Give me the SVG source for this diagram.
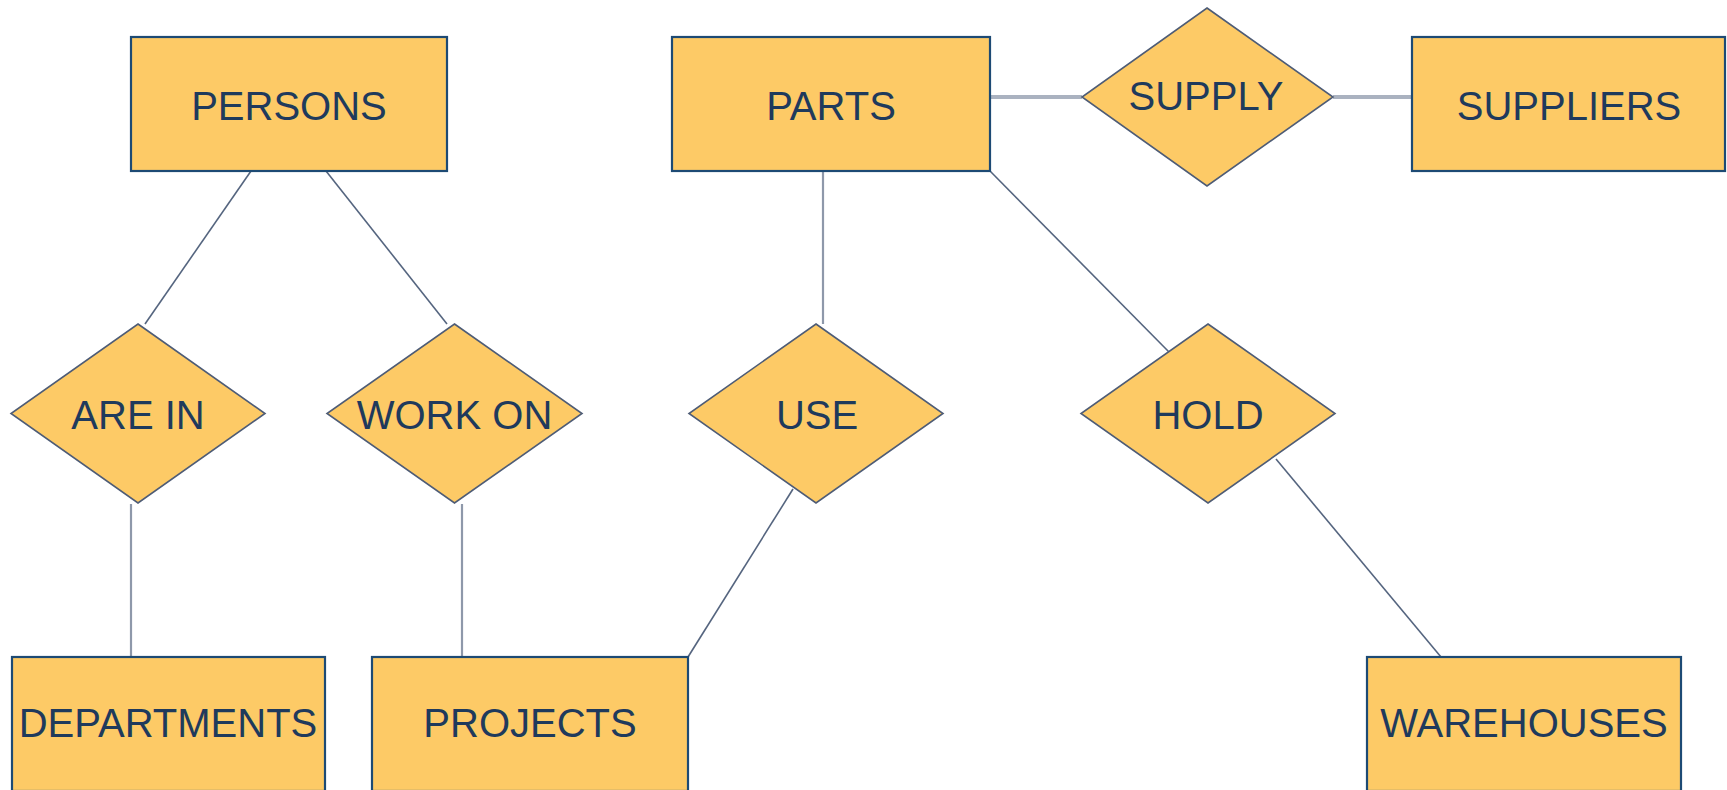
<svg xmlns="http://www.w3.org/2000/svg" width="1727" height="790" viewBox="0 0 1727 790">
<style>
.ent{fill:#fdca66;stroke:#1d4a74;stroke-width:2.2}
.rel{fill:#fdca66;stroke:#4e5c76;stroke-width:1.6}
.lbl{font-family:"Liberation Sans",Arial,sans-serif;font-size:40px;fill:#1f3a5c;text-anchor:middle}
.ln{stroke:#55657f;stroke-width:1.6;fill:none}
.lv{stroke:#8e98aa;stroke-width:2.2;fill:none}
.lh{stroke:#aab2c0;stroke-width:4;fill:none}
</style>
<rect width="1727" height="790" fill="#ffffff"/>
<g id="connectors">
<line class="ln" x1="251" y1="171" x2="145" y2="324"/>
<line class="ln" x1="326" y1="171" x2="447" y2="324"/>
<line class="lv" x1="131" y1="504" x2="131" y2="657"/>
<line class="lv" x1="462" y1="504" x2="462" y2="657"/>
<line class="lv" x1="823" y1="171" x2="823" y2="324"/>
<line class="ln" x1="990" y1="171" x2="1169" y2="352"/>
<line class="ln" x1="793" y1="489" x2="688" y2="657"/>
<line class="ln" x1="1276" y1="459" x2="1441" y2="657"/>
<line class="lh" x1="990" y1="97" x2="1082" y2="97"/>
<line class="lh" x1="1333" y1="97" x2="1412" y2="97"/>
</g>
<g id="persons"><rect class="ent" x="131" y="37" width="316" height="134"/><text class="lbl" x="289" y="120">PERSONS</text></g>
<g id="parts"><rect class="ent" x="672" y="37" width="318" height="134"/><text class="lbl" x="831" y="120">PARTS</text></g>
<g id="supply"><polygon class="rel" points="1207,8 1333,97 1207,186 1082,97"/><text class="lbl" x="1206" y="110">SUPPLY</text></g>
<g id="suppliers"><rect class="ent" x="1412" y="37" width="313" height="134"/><text class="lbl" x="1569" y="120">SUPPLIERS</text></g>
<g id="are_in"><polygon class="rel" points="138,324 265,413.5 138,503 11,413.5"/><text class="lbl" x="138" y="429">ARE IN</text></g>
<g id="work_on"><polygon class="rel" points="454.5,324 582,413.5 454.5,503 327,413.5"/><text class="lbl" x="454.5" y="429">WORK ON</text></g>
<g id="use"><polygon class="rel" points="816,324 943,413.5 816,503 689,413.5"/><text class="lbl" x="817" y="429">USE</text></g>
<g id="hold"><polygon class="rel" points="1208,324 1335,413.5 1208,503 1081,413.5"/><text class="lbl" x="1208" y="429">HOLD</text></g>
<g id="departments"><rect class="ent" x="12" y="657" width="313" height="134"/><text class="lbl" x="168" y="737">DEPARTMENTS</text></g>
<g id="projects"><rect class="ent" x="372" y="657" width="316" height="134"/><text class="lbl" x="530" y="737">PROJECTS</text></g>
<g id="warehouses"><rect class="ent" x="1367" y="657" width="314" height="134"/><text class="lbl" x="1524" y="737">WAREHOUSES</text></g>
</svg>
